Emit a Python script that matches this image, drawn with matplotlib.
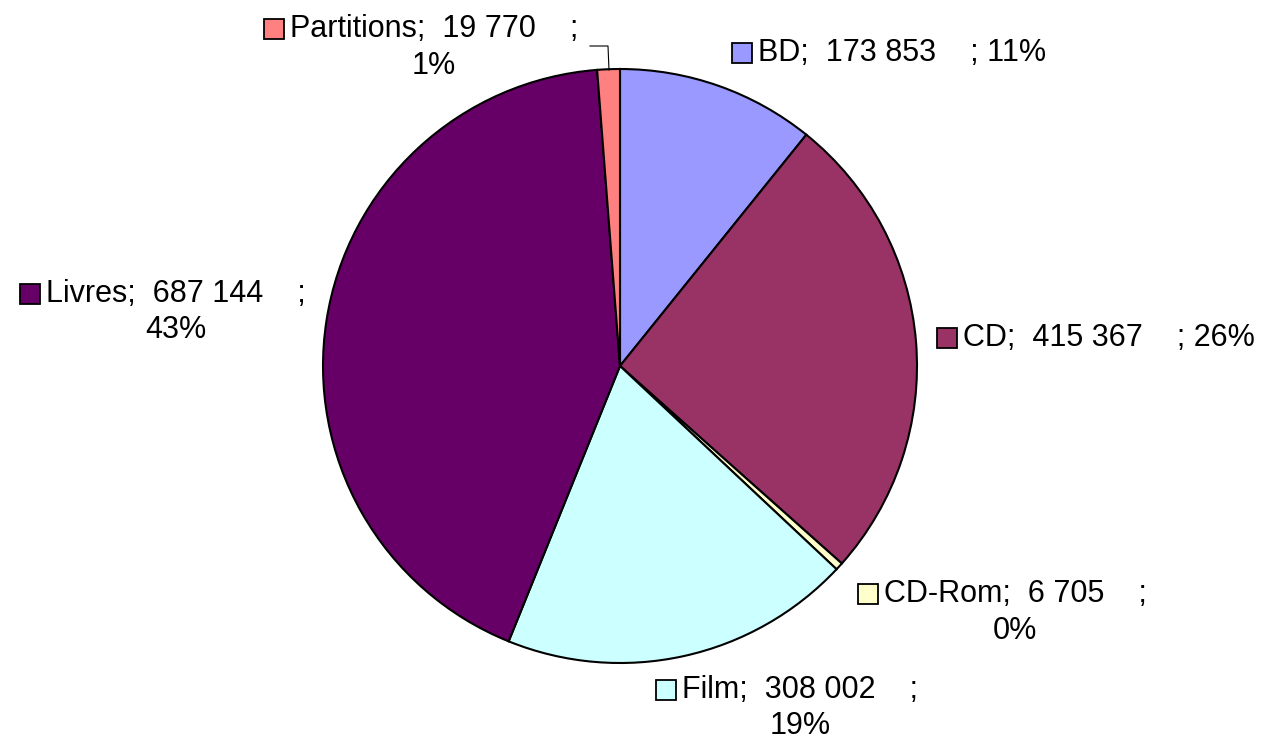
import matplotlib
matplotlib.use("Agg")
import matplotlib.pyplot as plt
from matplotlib.patches import Rectangle

plt.rcParams['font.family'] = ['Liberation Sans', 'DejaVu Sans']

# données
categories = ['BD', 'CD', 'CD-Rom', 'Film', 'Livres', 'Partitions']
values = [173853, 415367, 6705, 308002, 687144, 19770]
colors = ['#9999FF', '#993366', '#FFFFCC', '#CCFFFF', '#660066', '#FF8080']

W, H = 1265, 742
fig = plt.figure(figsize=(W / 100, H / 100), dpi=100)
ax = fig.add_axes([0, 0, 1, 1])

def Y(py):
    return H - py

ax.pie(values, colors=colors, startangle=90, counterclock=False,
       center=(620, Y(366)), radius=297,
       wedgeprops=dict(edgecolor='black', linewidth=1.5))
ax.set_aspect('auto')
ax.set_xlim(0, W)
ax.set_ylim(0, H)
ax.axis('off')

total = sum(values)

# position des étiquettes: centre x, y ligne 1, y ligne 2 (None = une seule ligne)
label_pos = {
    'BD': (902, 53, None),
    'CD': (1109, 338, None),
    'CD-Rom': (1015, 594, 631),
    'Film': (800, 690, 726),
    'Livres': (176, 294, 330),
    'Partitions': (434, 29, 66),
}

fs = 22
fig.canvas.draw()
renderer = fig.canvas.get_renderer()
for name, v, c in zip(categories, values, colors):
    num = f"{v:,}".replace(',', ' ')
    pct = f"{round(v / total * 100)}%"
    cx, y1, y2 = label_pos[name]
    line1 = f"{name};  {num}    ;"
    if y2 is None:
        line1 = line1 + " " + pct
    t = ax.text(cx, Y(y1), line1, fontsize=fs, ha='center', va='center')
    if y2 is not None:
        ax.text(cx, Y(y2), pct, fontsize=fs, ha='center', va='center')
    bb = t.get_window_extent(renderer)
    sq = 20
    ax.add_patch(Rectangle((bb.x0 - 6 - sq, Y(y1) - sq / 2), sq, sq,
                           facecolor=c, edgecolor='black', linewidth=1.3))

# trait de rappel pour Partitions
ax.plot([590, 608, 609], [Y(46), Y(46), Y(70)], color='black', linewidth=0.8)

fig.savefig('out.png', dpi=100)
